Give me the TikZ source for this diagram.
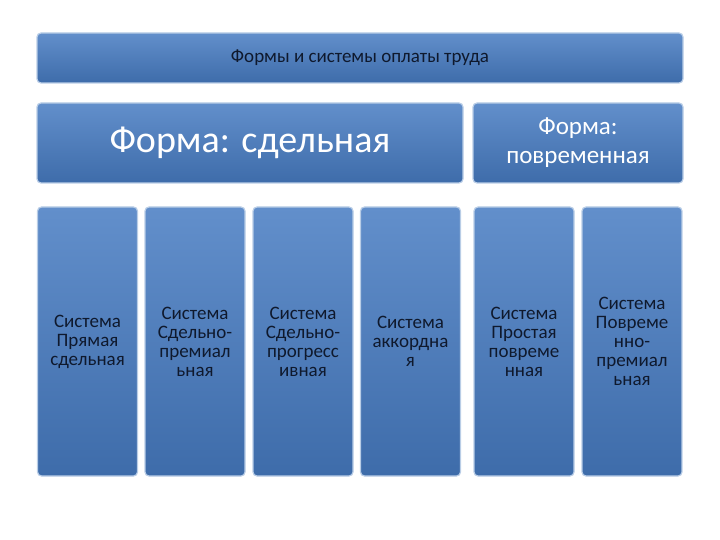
\documentclass[tikz,border=0pt]{standalone}
\usepackage{fontspec}
\setmainfont{Carlito}
\definecolor{btop}{RGB}{98,143,203}
\definecolor{bbot}{RGB}{62,108,170}
\definecolor{bedge}{RGB}{185,205,230}
\definecolor{dtext}{RGB}{15,25,45}
\begin{document}
\begin{tikzpicture}[x=1pt,y=-1pt,
  bx/.style={rounded corners=4pt,top color=btop,bottom color=bbot,draw=bedge,line width=1.2pt,text=white,align=center,inner sep=0pt}]
\useasboundingbox (0,0) rectangle (720,540);
\node[bx,text=dtext,minimum width=646,minimum height=50,font=\fontsize{19}{22}\selectfont] (t) at (360,58) {Формы и системы оплаты труда};
\node[bx,minimum width=426,minimum height=80,font=\fontsize{38}{42}\selectfont] (f1) at (250,143) {Форма: сдельная};
\node[bx,minimum width=210,minimum height=80,font=\fontsize{25}{29}\selectfont] (f2) at (578,143) {Форма:\\повременная};
\foreach \n/\x/\t in {c1/87.5/{Система\\Прямая\\сдельная},c2/195/{Система\\Сдельно-\\премиал\\ьная},c3/303/{Система\\Сдельно-\\прогресс\\ивная},c4/410.5/{Система\\аккордна\\я},c5/524/{Система\\Простая\\повреме\\нная},c6/632/{Система\\Повреме\\нно-\\премиал\\ьная}}
  \node[bx,text=dtext,minimum width=100,minimum height=269,font=\fontsize{19}{19}\selectfont] (\n) at (\x,341.5) {\t};
\end{tikzpicture}
\end{document}
